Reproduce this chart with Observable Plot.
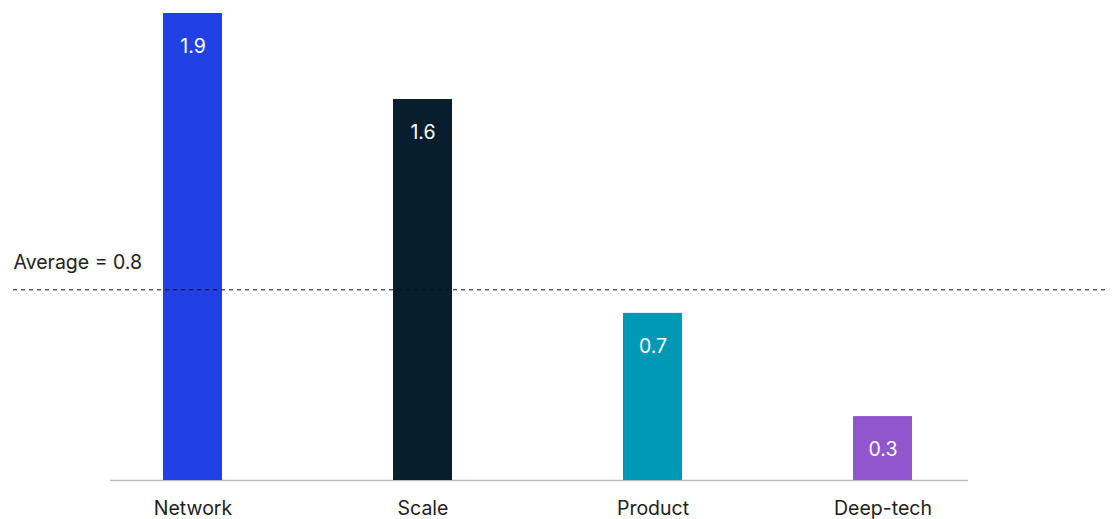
<!DOCTYPE html>
<html>
<head>
<meta charset="utf-8">
<script src="https://cdn.jsdelivr.net/npm/d3@7"></script>
<script src="https://cdn.jsdelivr.net/npm/@observablehq/plot@0.6"></script>
<style>
  html, body { margin: 0; padding: 0; background: #fff; }
  #chart svg { display: block; }
</style>
</head>
<body>
<div id="chart"></div>
<script>
const categories = ["Network", "Scale", "Product", "Deep-tech"];
const values = [1.9, 1.55, 0.68, 0.26];
const valueLabels = ["1.9", "1.6", "0.7", "0.3"];
const colors = ["#2141e4", "#061e2e", "#0099b5", "#9155cd"];
const average = 0.776;
const averageLabel = "Average = 0.8";

const data = categories.map((c, i) => ({category: c, value: values[i], label: valueLabels[i], color: colors[i]}));

const chart = Plot.plot({
  width: 1113,
  height: 519,
  marginTop: 13,
  marginBottom: 39,
  marginLeft: 13,
  marginRight: 6,
  style: {fontFamily: "Inter, 'Liberation Sans', Arial, sans-serif", fontSize: "19.5px", color: "#222", background: "#fff"},
  x: {domain: categories, range: [109, 967], paddingInner: 0.7425, paddingOuter: 0.234, label: null},
  y: {domain: [0, 1.9], axis: null},
  marks: [
    Plot.ruleY([0], {stroke: "#bdbdbd", strokeWidth: 1.5, insetLeft: 97, insetRight: 139}),
    Plot.barY(data, {x: "category", y: "value", fill: "color"}),
    Plot.text(data, {x: "category", y: "value", text: "label", dy: 33, fill: "#fff", fontSize: 19.5}),
    Plot.ruleY([average], {stroke: "#111", strokeWidth: 1, strokeDasharray: "4,4"}),
    Plot.text([average], {y: d => d, text: () => averageLabel, frameAnchor: "left", textAnchor: "start", dy: -27, fill: "#222", fontSize: 19.5}),
    Plot.axisX({tickSize: 0, tickPadding: 21, fontSize: 19.5, fill: "#222", label: null})
  ]
});
document.getElementById("chart").appendChild(chart);
</script>
</body>
</html>
